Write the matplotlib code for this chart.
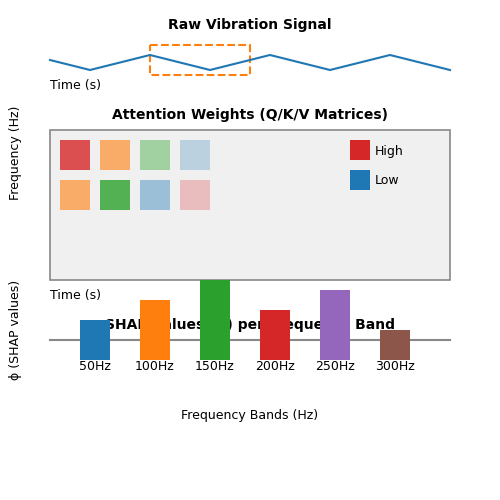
import matplotlib
matplotlib.use('Agg')
import matplotlib.pyplot as plt
from matplotlib.patches import Rectangle

# raw signal (canvas pixel coords)
sig_x = [50, 90, 150, 210, 270, 330, 390, 450]
sig_y = [60, 70, 55, 70, 55, 70, 55, 70]

# attention cells: colour and alpha per row
att_colors = [['#d62728', '#ff7f0e', '#2ca02c', '#1f77b4'],
              ['#ff7f0e', '#2ca02c', '#1f77b4', '#d62728']]
att_alpha = [[0.8, 0.6, 0.4, 0.25],
             [0.6, 0.8, 0.4, 0.25]]

# SHAP bars
bands = ['50Hz', '100Hz', '150Hz', '200Hz', '250Hz', '300Hz']
shap_top = [320, 300, 280, 310, 290, 330]
bar_colors = ['#1f77b4', '#ff7f0e', '#2ca02c', '#d62728', '#9467bd', '#8c564b']

fig = plt.figure(figsize=(5, 5), dpi=100)
ax = fig.add_axes([0, 0, 1, 1])
ax.set_xlim(0, 500)
ax.set_ylim(500, 0)
ax.axis('off')

ax.text(250, 25, 'Raw Vibration Signal', ha='center', va='center', fontsize=10, fontweight='bold')
ax.plot(sig_x, sig_y, color='#1f77b4', lw=1.5)
ax.add_patch(Rectangle((150, 45), 100, 30, fill=False, ec='#ff7f0e', ls='--', lw=1.5))
ax.text(50, 86, 'Time (s)', va='center', fontsize=9)
ax.text(16, 153, 'Frequency (Hz)', rotation=90, ha='center', va='center', fontsize=9)

ax.text(250, 115, 'Attention Weights (Q/K/V Matrices)', ha='center', va='center', fontsize=10, fontweight='bold')
ax.add_patch(Rectangle((50, 130), 400, 150, fc='#f0f0f0', ec='#888888', lw=1.2))
for r in range(2):
    for c in range(4):
        ax.add_patch(Rectangle((60 + 40 * c, 140 + 40 * r), 30, 30,
                               fc=att_colors[r][c], alpha=att_alpha[r][c], lw=0))
ax.add_patch(Rectangle((350, 140), 20, 20, fc='#d62728', lw=0))
ax.add_patch(Rectangle((350, 170), 20, 20, fc='#1f77b4', lw=0))
ax.text(375, 151, 'High', va='center', fontsize=9)
ax.text(375, 181, 'Low', va='center', fontsize=9)

ax.text(50, 296, 'Time (s)', va='center', fontsize=9)
ax.text(16, 330, 'ϕ (SHAP values)', rotation=90, ha='center', va='center', fontsize=9)
ax.text(250, 325, 'SHAP Values (ϕ) per Frequency Band', ha='center', va='center',
        fontsize=10, fontweight='bold', zorder=1)
ax.plot([50, 450], [340, 340], color='#888888', lw=1.5, zorder=2)
for i, (lab, top, col) in enumerate(zip(bands, shap_top, bar_colors)):
    cx = 95 + 60 * i
    ax.add_patch(Rectangle((cx - 15, top), 30, 360 - top, fc=col, lw=0, zorder=3))
    ax.text(cx, 366, lab, ha='center', va='center', fontsize=9)
ax.text(250, 416, 'Frequency Bands (Hz)', ha='center', va='center', fontsize=9)

fig.savefig('out.png')
